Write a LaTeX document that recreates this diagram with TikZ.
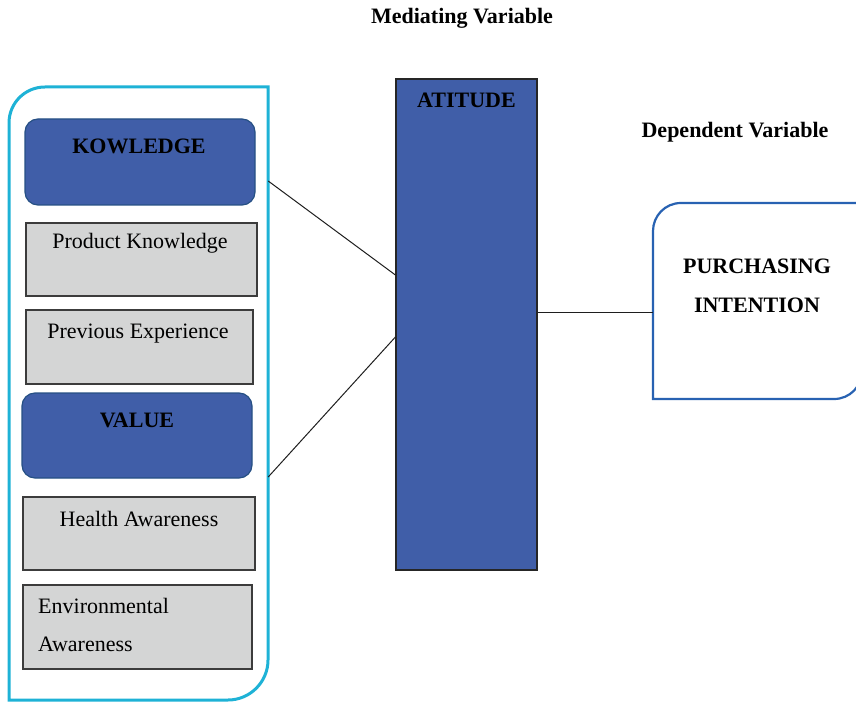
\documentclass[tikz,border=0pt]{standalone}
\usepackage{fontspec}
\setmainfont{Liberation Serif}
\usetikzlibrary{calc}
\definecolor{boxblue}{RGB}{64,94,168}
\definecolor{boxedge}{RGB}{38,80,132}
\definecolor{graybox}{RGB}{212,213,213}
\definecolor{grayedge}{RGB}{60,60,60}
\definecolor{cyanline}{RGB}{30,178,214}
\definecolor{piedge}{RGB}{40,98,178}
\definecolor{lineclr}{RGB}{30,30,30}
\begin{document}
\begin{tikzpicture}[x=1pt,y=-1pt,
  bluebox/.style={draw=boxedge, line width=1.2pt, fill=boxblue, rounded corners=13pt, inner sep=0pt},
  attbox/.style={draw=black!85, line width=1.2pt, fill=boxblue, inner sep=0pt},
  greybox/.style={draw=grayedge, line width=1.3pt, fill=graybox, inner sep=0pt},
  ghost/.style={draw=none, inner sep=0pt},
  lbl/.style={inner sep=0pt, anchor=base, font=\fontsize{22}{26}\selectfont},
  conn/.style={draw=lineclr, line width=1pt}]
\useasboundingbox (0,0) rectangle (856,703);
\clip (0,0) rectangle (856,703);

% titles
\node[lbl] (tmed) at (462,24) {\textbf{Mediating Variable}};
\node[lbl] (tdep) at (735,138) {\textbf{Dependent Variable}};

% left group
\node[ghost, minimum width=259pt, minimum height=613pt] (grp) at (138.5,393.5) {};
\draw[cyanline, line width=3pt] (268,87) -- (268,660) .. controls (268,682) and (250,700) .. (228,700) -- (9,700) -- (9,123) .. controls (9,103) and (25,87) .. (45,87) -- cycle;

\node[bluebox, minimum width=230pt, minimum height=86pt] (kno) at (140,162) {};
\node[lbl] (tkno) at (139,154) {\textbf{KOWLEDGE}};
\node[greybox, minimum width=231pt, minimum height=73pt] (pk) at (141.5,259.5) {};
\node[lbl] (tpk) at (140,249) {Product Knowledge};
\node[greybox, minimum width=227pt, minimum height=74pt] (pe) at (139.5,347) {};
\node[lbl] (tpe) at (138,338) {Previous Experience};
\node[bluebox, minimum width=230pt, minimum height=85pt] (val) at (137,435.5) {};
\node[lbl] (tval) at (137,427) {\textbf{VALUE}};
\node[greybox, minimum width=232pt, minimum height=73pt] (ha) at (139,533.5) {};
\node[lbl] (tha) at (139,526) {Health Awareness};
\node[greybox, minimum width=229pt, minimum height=84pt] (ea) at (137.5,627) {};
\node[lbl, anchor=base west] (tea1) at (38,613) {Environmental};
\node[lbl, anchor=base west] (tea2) at (38,651) {Awareness};

% mediator
\node[attbox, minimum width=141pt, minimum height=491pt] (att) at (466.5,324.5) {};
\node[lbl] (tatt) at (466.5,108) {\textbf{ATITUDE}};

% dependent
\node[ghost, minimum width=209pt, minimum height=196pt] (pi) at (757.5,301) {};
\draw[piedge, line width=2.2pt] (653,399) -- (653,231) .. controls (653,216) and (665,203) .. (681,203) -- (862,203) -- (862,371) .. controls (862,386) and (850,399) .. (834,399) -- cycle;
\node[lbl] (tpi1) at (757,273) {\textbf{PURCHASING}};
\node[lbl] (tpi2) at (757,312) {\textbf{INTENTION}};

% connectors
\draw[conn] (grp.east |- 0,181) -- ($(att.west)+(0,-49.5)$);
\draw[conn] (grp.east |- 0,477) -- ($(att.west)+(0,12.5)$);
\draw[conn] (att.east |- 0,312) -- (pi.west |- 0,312);
\end{tikzpicture}
\end{document}
